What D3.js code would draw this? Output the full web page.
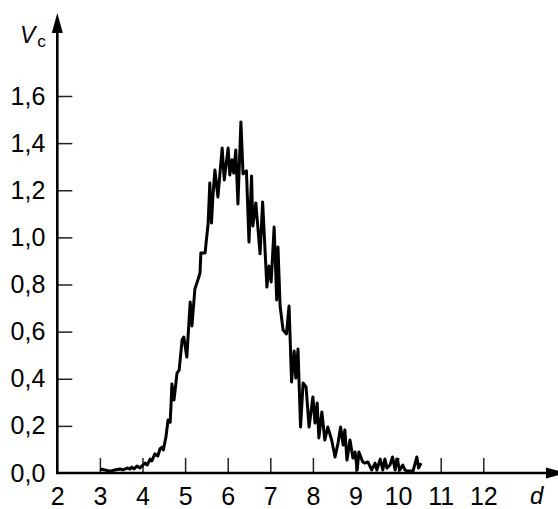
<!DOCTYPE html>
<html lang="en">
<head>
    <meta charset="UTF-8">
    <title>Vc vs d</title>
    <script src="https://cdn.jsdelivr.net/npm/d3@7/dist/d3.min.js"></script>
    <style>
        body { margin: 0; background: #fff; }
        text { font-family: "Liberation Sans", Arial, sans-serif; fill: #000; }
    </style>
</head>
<body>
    <script>
        // data
        var dVals = [3.00, 3.12, 3.24, 3.35, 3.47, 3.54, 3.64, 3.71, 3.75, 3.80, 3.87, 3.94, 3.99, 4.06, 4.11,
                     4.18, 4.22, 4.29, 4.36, 4.41, 4.46, 4.49, 4.55, 4.60, 4.65, 4.67, 4.69, 4.74, 4.81, 4.86,
                     4.93, 4.97, 5.04, 5.12, 5.16, 5.23, 5.30, 5.35, 5.37, 5.47, 5.50, 5.54, 5.58, 5.62, 5.65,
                     5.70, 5.77, 5.87, 5.92, 6.01, 6.05, 6.10, 6.14, 6.19, 6.24, 6.31, 6.36, 6.44, 6.50, 6.56,
                     6.59, 6.66, 6.76, 6.82, 6.92, 6.97, 7.02, 7.09, 7.15, 7.18, 7.23, 7.30, 7.38, 7.44, 7.50,
                     7.56, 7.60, 7.65, 7.71, 7.77, 7.84, 7.91, 8.00, 8.05, 8.10, 8.14, 8.21, 8.28, 8.35, 8.44,
                     8.52, 8.59, 8.65, 8.71, 8.75, 8.80, 8.87, 8.94, 8.99, 9.04, 9.08, 9.17, 9.22, 9.29, 9.38,
                     9.46, 9.50, 9.58, 9.64, 9.69, 9.74, 9.81, 9.87, 9.93, 9.97, 10.04, 10.11, 10.16, 10.21, 10.28,
                     10.35, 10.44, 10.48, 10.54];
        var vVals = [0.017, 0.013, 0.008, 0.013, 0.017, 0.013, 0.021, 0.017, 0.025, 0.017, 0.030, 0.021, 0.030, 0.042, 0.034,
                     0.059, 0.051, 0.081, 0.072, 0.102, 0.110, 0.098, 0.153, 0.225, 0.216, 0.289, 0.378, 0.310, 0.424, 0.437,
                     0.565, 0.577, 0.492, 0.726, 0.624, 0.781, 0.819, 0.849, 0.934, 0.934, 0.989, 1.057, 1.231, 1.061, 1.167,
                     1.286, 1.171, 1.379, 1.244, 1.379, 1.265, 1.329, 1.273, 1.371, 1.142, 1.490, 1.269, 1.282, 0.980, 1.261,
                     1.048, 1.146, 0.930, 1.150, 0.789, 0.879, 0.811, 1.044, 0.734, 0.959, 0.709, 0.607, 0.590, 0.709, 0.386,
                     0.518, 0.403, 0.526, 0.195, 0.382, 0.365, 0.195, 0.323, 0.212, 0.297, 0.149, 0.259, 0.140, 0.195, 0.140,
                     0.068, 0.127, 0.195, 0.119, 0.183, 0.055, 0.140, 0.064, 0.089, 0.013, 0.089, 0.047, 0.042, 0.047, 0.013,
                     0.042, 0.013, 0.059, 0.013, 0.059, 0.021, 0.034, 0.068, 0.013, 0.059, 0.013, 0.034, 0.013, 0.008, 0.008,
                     0.008, 0.068, 0.021, 0.042];
        var xTicks = [2, 3, 4, 5, 6, 7, 8, 9, 10, 11, 12];
        var yTicks = [0, 0.2, 0.4, 0.6, 0.8, 1.0, 1.2, 1.4, 1.6];
        var xEnd = 13.94;   // where the arrow tips sit
        var yEnd = 1.952;

        var width = 558;
        var height = 509;
        var svg = d3.select("body").append("svg").attr("width", width).attr("height", height);

        var x = d3.scaleLinear().domain([2, 12]).range([57.3, 483.3]);
        var y = d3.scaleLinear().domain([0, 1.6]).range([473, 96]);

        // decimal comma
        var fmt = d3.formatLocale({decimal: ",", thousands: ".", grouping: [3], currency: ["", ""]}).format(".1f");

        // x axis (ticks pointing up)
        var gx = svg.append("g")
            .attr("transform", "translate(0," + y(0) + ")")
            .call(d3.axisBottom(x).tickValues(xTicks).tickFormat(d3.format("d"))
                .tickSizeInner(-15).tickSizeOuter(0).tickPadding(14));
        gx.select(".domain").remove();
        gx.selectAll(".tick line").attr("stroke", "#222").attr("stroke-width", 1.5)
            .filter(function(d){ return d === 2; }).remove();
        gx.selectAll(".tick text").attr("font-size", 25).attr("font-family", "Liberation Sans, Arial, sans-serif");

        // y axis (ticks pointing right)
        var gy = svg.append("g")
            .attr("transform", "translate(" + x(2) + ",0)")
            .call(d3.axisLeft(y).tickValues(yTicks).tickFormat(fmt)
                .tickSizeInner(-15).tickSizeOuter(0).tickPadding(12));
        gy.select(".domain").remove();
        gy.selectAll(".tick line").attr("stroke", "#222").attr("stroke-width", 1.5)
            .filter(function(d){ return d === 0; }).remove();
        gy.selectAll(".tick text").attr("font-size", 25).attr("font-family", "Liberation Sans, Arial, sans-serif");

        // curve
        var line = d3.line()
            .x(function(d, i){ return x(dVals[i]); })
            .y(function(d, i){ return y(vVals[i]); });
        svg.append("path")
            .attr("d", line(dVals))
            .attr("fill", "none")
            .attr("stroke", "#000")
            .attr("stroke-width", 3)
            .attr("stroke-linejoin", "round");

        // axis lines with arrows
        var x0 = x(2), y0 = y(0), xTip = x(xEnd), yTip = y(yEnd);
        svg.append("line").attr("x1", x0).attr("y1", y0).attr("x2", xTip - 15).attr("y2", y0)
            .attr("stroke", "#000").attr("stroke-width", 2.6);
        svg.append("line").attr("x1", x0).attr("y1", y0 + 1.3).attr("x2", x0).attr("y2", yTip + 15)
            .attr("stroke", "#000").attr("stroke-width", 2.6);
        svg.append("path")
            .attr("d", "M" + xTip + "," + y0 + "L" + (xTip - 20) + "," + (y0 - 5.5) + "L" + (xTip - 20) + "," + (y0 + 5.5) + "Z")
            .attr("fill", "#000");
        svg.append("path")
            .attr("d", "M" + x0 + "," + yTip + "L" + (x0 - 5.5) + "," + (yTip + 20) + "L" + (x0 + 5.5) + "," + (yTip + 20) + "Z")
            .attr("fill", "#000");

        // axis titles
        var yt = svg.append("text").attr("x", 20).attr("y", 43);
        yt.append("tspan").attr("font-size", 23).attr("font-style", "italic").text("V");
        yt.append("tspan").attr("font-size", 17).attr("dy", 4).attr("dx", 2).text("c");

        svg.append("text").attr("x", 530).attr("y", 504)
            .attr("font-size", 24).attr("font-style", "italic").text("d");
    </script>
</body>
</html>
